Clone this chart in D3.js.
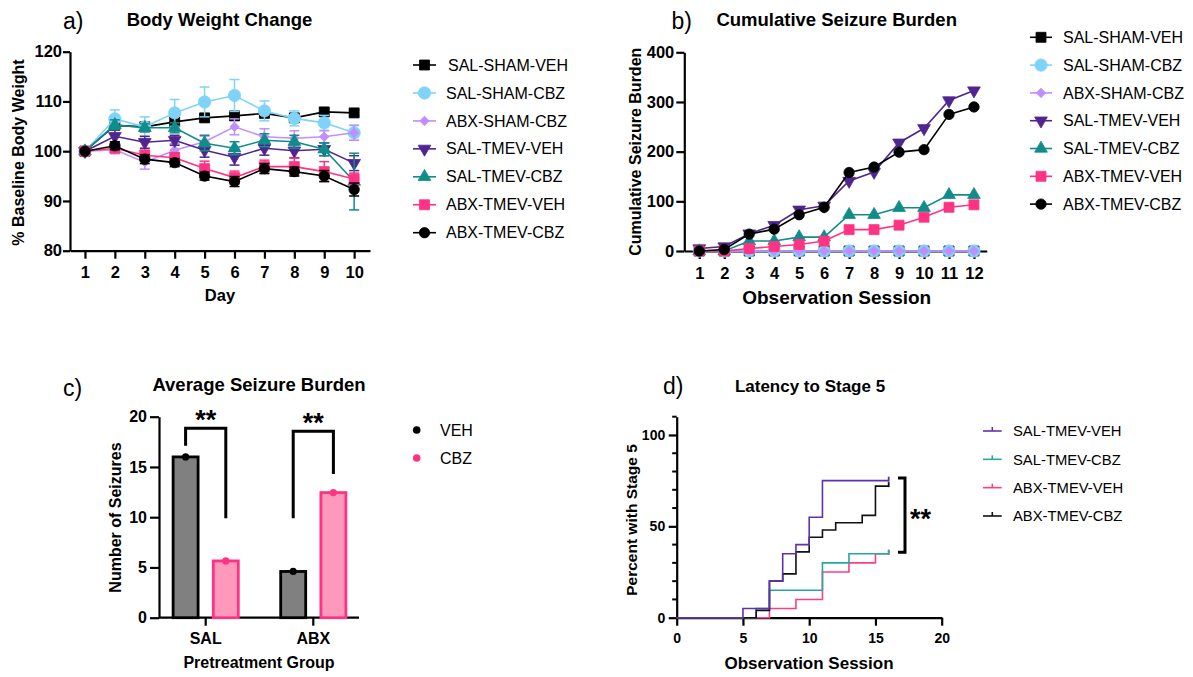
<!DOCTYPE html>
<html><head><meta charset="utf-8">
<script src="https://cdn.jsdelivr.net/npm/d3@7"></script>
<style>
body{margin:0;background:#fff}
svg{display:block}
text{font-family:"Liberation Sans",Arial,Helvetica,sans-serif;fill:#000}
</style>
</head><body>
<svg id="chart" width="1193" height="677"></svg>
<script>
// ---------- DATA ----------
const groupNames = ["SAL-SHAM-VEH","SAL-SHAM-CBZ","ABX-SHAM-CBZ","SAL-TMEV-VEH","SAL-TMEV-CBZ","ABX-TMEV-VEH","ABX-TMEV-CBZ"];

// a) body weight (% baseline)
const days = [1,2,3,4,5,6,7,8,9,10];
const bwSalShamVeh = [100,105.2,104.9,105.9,106.7,107.1,107.6,106.7,107.9,107.7];
const bwSalShamCbz = [100,106.5,104.9,107.7,109.9,111.2,108.1,106.6,105.7,103.7];
const bwAbxShamCbz = [100,100.3,97.8,100.2,101.9,104.9,102.9,102.6,102.9,103.7];
const bwSalTmevVeh = [100,103.0,101.8,102.2,100.2,98.8,100.6,100.1,100.4,97.6];
const bwSalTmevCbz = [100,105.3,104.7,104.7,101.6,100.6,102.2,101.9,100.4,93.9];
const bwAbxTmevVeh = [100,100.6,99.2,98.7,96.5,94.7,96.9,96.9,95.9,94.4];
const bwAbxTmevCbz = [100,101.1,98.4,97.7,95.0,93.9,96.5,95.9,95.0,92.3];
// SEM
const semSalShamVeh = [0.2,0.6,0.6,0.8,0.7,0.8,0.6,0.6,0.7,0.6];
const semSalShamCbz = [0.2,1.8,2.0,2.7,3.0,3.2,2.0,1.5,1.5,1.5];
const semAbxShamCbz = [0.2,0.8,1.4,1.3,1.4,1.6,1.6,1.5,1.2,1.5];
const semSalTmevVeh = [0.2,1.2,1.2,1.0,1.4,1.6,1.4,1.4,1.3,1.5];
const semSalTmevCbz = [0.2,1.0,0.8,1.0,1.5,1.3,1.3,1.3,1.3,5.7];
const semAbxTmevVeh = [0.2,0.8,1.0,1.0,1.5,1.3,1.3,1.7,2.0,1.2];
const semAbxTmevCbz = [0.2,0.8,0.9,0.8,0.8,1.0,1.0,0.9,1.1,1.3];
const bwTicks = [80,90,100,110,120];

// b) cumulative seizure burden
const sessions = [1,2,3,4,5,6,7,8,9,10,11,12];
const csSalShamVeh = [0,0,0,0,0,0,0,0,0,0,0,0];
const csSalShamCbz = [0,0,0,0,0,0,0,0,0,0,0,0];
const csAbxShamCbz = [0,0,0,0,0,0,0,0,0,0,0,0];
const csSalTmevVeh = [5,9,35,52,83,91,141,159,218,247,303,323];
const csSalTmevCbz = [0,0,20,20,28,28,73,73,87,87,113,113];
const csAbxTmevVeh = [0,0,5,9,13,20,43,43,52,68,88,93];
const csAbxTmevCbz = [0,3,34,44,73,88,158,169,199,204,275,290];
const csTicks = [0,100,200,300,400];

// c) average seizure burden
const pretreatments = ["SAL","ABX"];
const treatments = ["VEH","CBZ"];
const avgVeh = [16.0,4.6];
const avgCbz = [5.65,12.45];
const avgTicks = [0,5,10,15,20];
// significance brackets (data units): top, left-leg bottom, right-leg bottom
const bracketTop = [18.85,18.55];
const bracketLeftEnd = [17.1,9.9];
const bracketRightEnd = [9.9,14.3];

// d) latency to stage 5 (step curves)
const kmGroups = ["SAL-TMEV-VEH","SAL-TMEV-CBZ","ABX-TMEV-VEH","ABX-TMEV-CBZ"];
const kmSalTmevVehT = [0,5,7,8,9,10,11,16];
const kmSalTmevVehP = [0,5,20,35,40,55,75,75];
const kmSalTmevCbzT = [0,6,7,11,13,16];
const kmSalTmevCbzP = [0,5,15,30,35,35];
const kmAbxTmevVehT = [0,7,9,11,13,15,16];
const kmAbxTmevVehP = [0,5,10,25,30,35,35];
const kmAbxTmevCbzT = [0,6,7,8,9,10,11,12,14,15,16];
const kmAbxTmevCbzP = [0,4,20,24,36,44,48,52,56,72,72];
const kmYTicks = [0,50,100];
const kmXTicks = [0,5,10,15,20];
const kmBracket = [76.5,35.8];

// ---------- STYLES ----------
const style = {
  "SAL-SHAM-VEH": {color:"#000000", shape:"square", size:100},
  "SAL-SHAM-CBZ": {color:"#80D3F8", shape:"circle", size:120},
  "ABX-SHAM-CBZ": {color:"#C08EFF", shape:"diamond", size:45},
  "SAL-TMEV-VEH": {color:"#4F268F", shape:"down", size:70},
  "SAL-TMEV-CBZ": {color:"#108C8A", shape:"up", size:70},
  "ABX-TMEV-VEH": {color:"#FF3383", shape:"square", size:100},
  "ABX-TMEV-CBZ": {color:"#000000", shape:"circle", size:85}
};
const kmColor = {"SAL-TMEV-VEH":"#5E31AD","SAL-TMEV-CBZ":"#27A7A3","ABX-TMEV-VEH":"#FF3D86","ABX-TMEV-CBZ":"#111111"};

const bwSeries = [bwSalShamVeh,bwSalShamCbz,bwAbxShamCbz,bwSalTmevVeh,bwSalTmevCbz,bwAbxTmevVeh,bwAbxTmevCbz];
const bwSem = [semSalShamVeh,semSalShamCbz,semAbxShamCbz,semSalTmevVeh,semSalTmevCbz,semAbxTmevVeh,semAbxTmevCbz];
const csSeries = [csSalShamVeh,csSalShamCbz,csAbxShamCbz,csSalTmevVeh,csSalTmevCbz,csAbxTmevVeh,csAbxTmevCbz];
const kmData = {
  "SAL-TMEV-VEH":[kmSalTmevVehT,kmSalTmevVehP],
  "SAL-TMEV-CBZ":[kmSalTmevCbzT,kmSalTmevCbzP],
  "ABX-TMEV-VEH":[kmAbxTmevVehT,kmAbxTmevVehP],
  "ABX-TMEV-CBZ":[kmAbxTmevCbzT,kmAbxTmevCbzP]
};

const svg = d3.select("#chart");

function symbolPath(shape,size){
  if(shape==="square") return d3.symbol(d3.symbolSquare,size)();
  if(shape==="circle") return d3.symbol(d3.symbolCircle,size)();
  if(shape==="diamond") return d3.symbol(d3.symbolSquare,size)();
  return d3.symbol(d3.symbolTriangle,size)();
}
function symbolRot(shape){
  if(shape==="diamond") return 45;
  if(shape==="down") return 180;
  return 0;
}
function drawMarker(g,x,y,name,scale){
  const s = style[name];
  const sz = s.size*(scale||1);
  g.append("path").attr("d",symbolPath(s.shape,sz))
    .attr("transform",`translate(${x},${y}) rotate(${symbolRot(s.shape)})`)
    .attr("fill",s.color).attr("stroke",s.color).attr("stroke-width",0.8);
}
function styleAxis(g,fs){
  g.selectAll("path.domain").attr("stroke","#000").attr("stroke-width",2.2);
  g.selectAll(".tick line").attr("stroke","#000").attr("stroke-width",2.2);
  g.selectAll(".tick text").attr("font-size",fs).attr("font-weight","bold")
    .attr("font-family",'"Liberation Sans",Arial,sans-serif').attr("fill","#000");
}
function label(x,y,txt,fs,opts){
  opts=opts||{};
  const t = svg.append("text").attr("x",x).attr("y",y).text(txt)
    .attr("font-size",fs).attr("font-weight",opts.weight||"bold")
    .attr("text-anchor",opts.anchor||"middle");
  if(opts.serif) t.attr("font-family",'"Liberation Serif","Times New Roman",serif').attr("font-weight","normal");
  if(opts.rotate){ t.attr("transform",`rotate(-90,${x},${y})`).attr("dy","0.35em"); }
  return t;
}

// ---------- PANEL A ----------
{
  const x = d3.scaleLinear().domain([0.5,10.53]).range([70,370]);
  const y = d3.scaleLinear().domain([80,120]).range([250.7,51.7]);
  const g = svg.append("g");
  const ay = g.append("g").attr("transform","translate(70,0)")
    .call(d3.axisLeft(y).tickValues(bwTicks).tickSize(7).tickPadding(1).tickSizeOuter(0));
  styleAxis(ay,"16.5px");
  const ax = g.append("g").attr("transform","translate(0,250.7)")
    .call(d3.axisBottom(x).tickValues(days).tickSize(8).tickPadding(8).tickSizeOuter(0));
  styleAxis(ax,"16.5px");
  const line = d3.line().x((d,i)=>x(days[i])).y(d=>y(d));
  groupNames.forEach((name,k)=>{
    const s = style[name], vals = bwSeries[k], sem = bwSem[k];
    const sg = g.append("g");
    sg.append("path").attr("d",line(vals)).attr("fill","none").attr("stroke",s.color).attr("stroke-width",1.6);
    vals.forEach((v,i)=>{
      const cx = x(days[i]);
      const y1 = y(v+sem[i]), y2 = y(v-sem[i]);
      sg.append("line").attr("x1",cx).attr("x2",cx).attr("y1",y1).attr("y2",y2).attr("stroke",s.color).attr("stroke-width",1.5);
      [y1,y2].forEach(yy=>sg.append("line").attr("x1",cx-5).attr("x2",cx+5).attr("y1",yy).attr("y2",yy).attr("stroke",s.color).attr("stroke-width",1.5));
    });
    vals.forEach((v,i)=>drawMarker(sg,x(days[i]),y(v),name));
  });
  label(63,29,"a)",23,{serif:true,anchor:"start"});
  label(219.5,26,"Body Weight Change","18.5px");
  label(220,301,"Day","16.5px");
  label(18.5,152.5,"% Baseline Body Weight","16px",{rotate:true});
  // legend
  groupNames.forEach((name,i)=>{
    const yy = 65 + i*27.95;
    const s = style[name];
    svg.append("line").attr("x1",413).attr("x2",436).attr("y1",yy).attr("y2",yy).attr("stroke",s.color).attr("stroke-width",1.6);
    drawMarker(svg,424.5,yy,name);
    svg.append("text").attr("x",i===0?448:446).attr("y",yy).attr("dy","0.35em").text(name).attr("font-size","16px");
  });
}

// ---------- PANEL B ----------
{
  const x = d3.scaleLinear().domain([0.4,12.51]).range([684.3,986.7]);
  const y = d3.scaleLinear().domain([0,400]).range([251,52.3]);
  const g = svg.append("g");
  const ay = g.append("g").attr("transform","translate(684.3,0)")
    .call(d3.axisLeft(y).tickValues(csTicks).tickSize(8).tickPadding(2).tickSizeOuter(0));
  styleAxis(ay,"16.5px");
  const ax = g.append("g").attr("transform","translate(0,251)")
    .call(d3.axisBottom(x).tickValues(sessions).tickSize(8).tickPadding(8).tickSizeOuter(0));
  styleAxis(ax,"16.5px");
  const line = d3.line().x((d,i)=>x(sessions[i])).y(d=>y(d));
  groupNames.forEach((name,k)=>{
    const s = style[name], vals = csSeries[k];
    const sg = g.append("g");
    sg.append("path").attr("d",line(vals)).attr("fill","none").attr("stroke",s.color).attr("stroke-width",1.6);
    vals.forEach((v,i)=>drawMarker(sg,x(sessions[i]),y(v),name));
  });
  label(671.5,29,"b)",23,{serif:true,anchor:"start"});
  label(836.7,26,"Cumulative Seizure Burden","18.5px");
  label(836.7,303.5,"Observation Session","19px");
  label(635,151.7,"Cumulative Seizure Burden","16px",{rotate:true});
  groupNames.forEach((name,i)=>{
    const yy = 37.3 + i*27.8;
    const s = style[name];
    svg.append("line").attr("x1",1030).attr("x2",1052).attr("y1",yy).attr("y2",yy).attr("stroke",s.color).attr("stroke-width",1.6);
    drawMarker(svg,1041,yy,name);
    svg.append("text").attr("x",1063).attr("y",yy).attr("dy","0.35em").text(name).attr("font-size","16px");
  });
}

// ---------- PANEL C ----------
{
  const x0 = d3.scaleBand().domain(pretreatments).range([151.9,367.1]).padding(0);
  const x1 = d3.scaleBand().domain(treatments).range([-32.6,32.6]).paddingInner(0.378).paddingOuter(0);
  const y = d3.scaleLinear().domain([0,20]).range([617.7,416.7]);
  const g = svg.append("g");
  const ay = g.append("g").attr("transform","translate(159,0)")
    .call(d3.axisLeft(y).tickValues(avgTicks).tickSize(9).tickPadding(3).tickSizeOuter(0));
  styleAxis(ay,"16px");
  const ax = g.append("g").attr("transform","translate(0,617.7)")
    .call(d3.axisBottom(x0).tickSize(8).tickPadding(6.5).tickSizeOuter(0));
  ax.select("path.domain").remove();
  styleAxis(ax,"16px");
  g.append("line").attr("x1",159).attr("x2",359).attr("y1",617.7).attr("y2",617.7).attr("stroke","#000").attr("stroke-width",2.2);
  const barFill = {VEH:"#808080",CBZ:"#FF99BC"};
  const barStroke = {VEH:"#000000",CBZ:"#FF3383"};
  const dotFill = {VEH:"#000000",CBZ:"#FF3383"};
  pretreatments.forEach((p,i)=>{
    const vals = {VEH:avgVeh[i],CBZ:avgCbz[i]};
    treatments.forEach(t=>{
      const bx = x0(p)+x0.bandwidth()/2 + x1(t);
      g.append("rect").attr("x",bx).attr("y",y(vals[t])).attr("width",x1.bandwidth()).attr("height",y(0)-y(vals[t]))
        .attr("fill",barFill[t]).attr("stroke",barStroke[t]).attr("stroke-width",2.8);
      g.append("circle").attr("cx",bx+x1.bandwidth()/2).attr("cy",y(vals[t])).attr("r",3.6).attr("fill",dotFill[t]);
    });
    // bracket
    const lx = x0(p)+x0.bandwidth()/2 + x1("VEH") + x1.bandwidth()/2;
    const rx = x0(p)+x0.bandwidth()/2 + x1("CBZ") + x1.bandwidth()/2;
    g.append("path").attr("d",`M${lx},${y(bracketLeftEnd[i])}V${y(bracketTop[i])}H${rx}V${y(bracketRightEnd[i])}`)
      .attr("fill","none").attr("stroke","#000").attr("stroke-width",3);
    g.append("text").attr("x",(lx+rx)/2).attr("y",y(bracketTop[i])+0.4).attr("text-anchor","middle")
      .attr("font-size","27px").attr("font-weight","bold").text("**");
  });
  label(63,396,"c)",23,{serif:true,anchor:"start"});
  label(259,390.7,"Average Seizure Burden","18.5px");
  label(259,667.5,"Pretreatment Group","16px");
  label(115,517.5,"Number of Seizures","16px",{rotate:true});
  treatments.forEach((t,i)=>{
    const yy = 430 + i*28;
    svg.append("circle").attr("cx",416.7).attr("cy",yy).attr("r",3.8).attr("fill",dotFill[t]);
    svg.append("text").attr("x",440).attr("y",yy).attr("dy","0.35em").text(t).attr("font-size","16px");
  });
}

// ---------- PANEL D ----------
{
  const x = d3.scaleLinear().domain([0,20]).range([676.7,941.7]);
  const y = d3.scaleLinear().domain([0,110]).range([617.7,416.7]);
  const g = svg.append("g");
  const ay = g.append("g").attr("transform","translate(676.7,0)")
    .call(d3.axisLeft(y).tickValues(kmYTicks).tickSize(8).tickPadding(3.5).tickSizeOuter(0));
  styleAxis(ay,"14px");
  // minor ticks
  d3.range(10,111,10).filter(v=>v%50!==0).forEach(v=>{
    g.append("line").attr("x1",672.2).attr("x2",676.7).attr("y1",y(v)).attr("y2",y(v)).attr("stroke","#000").attr("stroke-width",2);
  });
  const ax = g.append("g").attr("transform","translate(0,617.7)")
    .call(d3.axisBottom(x).tickValues(kmXTicks).tickSize(8).tickPadding(7.5).tickSizeOuter(0));
  styleAxis(ax,"14px");
  const order = ["ABX-TMEV-VEH","SAL-TMEV-CBZ","ABX-TMEV-CBZ","SAL-TMEV-VEH"];
  order.forEach(name=>{
    const [T,P] = kmData[name];
    const pts = T.map((t,i)=>[t,P[i]]);
    const line = d3.line().x(d=>x(d[0])).y(d=>y(d[1])).curve(d3.curveStepAfter);
    g.append("path").attr("d",line(pts)).attr("fill","none").attr("stroke",kmColor[name]).attr("stroke-width",1.6);
    const last = pts[pts.length-1];
    g.append("line").attr("x1",x(last[0])).attr("x2",x(last[0])).attr("y1",y(last[1])-4).attr("y2",y(last[1])+1)
      .attr("stroke",kmColor[name]).attr("stroke-width",1.8);
  });
  // bracket
  const bx = x(17.23), bl = x(16.7);
  g.append("path").attr("d",`M${bl},${y(kmBracket[0])}H${bx}V${y(kmBracket[1])}H${bl}`)
    .attr("fill","none").attr("stroke","#000").attr("stroke-width",3);
  g.append("text").attr("x",bx+15.5).attr("y",(y(kmBracket[0])+y(kmBracket[1]))/2+13).attr("text-anchor","middle")
    .attr("font-size","27px").attr("font-weight","bold").text("**");
  label(663,394,"d)",23,{serif:true,anchor:"start"});
  label(810,391.7,"Latency to Stage 5","17px");
  label(809,669.3,"Observation Session","17px");
  label(631.7,520,"Percent with Stage 5","15.5px",{rotate:true});
  kmGroups.forEach((name,i)=>{
    const yy = 431 + i*28.33;
    svg.append("line").attr("x1",983).attr("x2",1001.7).attr("y1",yy).attr("y2",yy).attr("stroke",kmColor[name]).attr("stroke-width",1.6);
    svg.append("line").attr("x1",992.3).attr("x2",992.3).attr("y1",yy-4).attr("y2",yy).attr("stroke",kmColor[name]).attr("stroke-width",1.6);
    svg.append("text").attr("x",1013).attr("y",yy).attr("dy","0.35em").text(name).attr("font-size","14.8px");
  });
}
</script>
</body></html>
